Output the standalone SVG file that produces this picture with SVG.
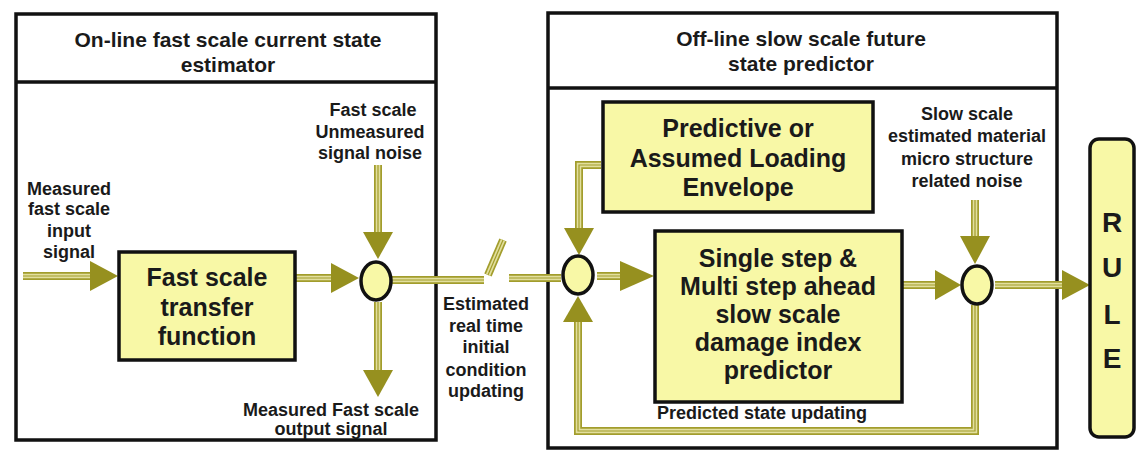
<svg xmlns="http://www.w3.org/2000/svg" width="1137" height="453" viewBox="0 0 1137 453">
<defs>
<style>
text{font-family:"Liberation Sans",Arial,sans-serif;font-weight:bold;fill:#1a1a1a;text-anchor:middle}
.hd{font-size:21px}
.lb{font-size:18px}
.bx{font-size:25px}
.rl{font-size:28px}
.panel{fill:#fff;stroke:#111;stroke-width:3.5}
.node{fill:#f8f8a6;stroke:#111;stroke-width:3.5}
.sum{fill:#f8f8a6;stroke:#111;stroke-width:3.5}
.w1{fill:none;stroke:#a29d2c;stroke-width:8}
.w2{fill:none;stroke:#e2df9e;stroke-width:4.5}
.w3{fill:none;stroke:#a29d2c;stroke-width:1.2}
.ah{fill:#96901f}
</style>
</defs>
<rect width="1137" height="453" fill="#fff"/>

<g id="panel-left">
<rect class="panel" x="16" y="14" width="420" height="426"/>
<line x1="16" y1="82" x2="436" y2="82" stroke="#111" stroke-width="3.5"/>
<text class="hd" x="228" y="47">On-line fast scale current state</text>
<text class="hd" x="228" y="72">estimator</text>
</g>

<g id="panel-right">
<rect class="panel" x="548" y="13" width="509" height="435"/>
<line x1="548" y1="88" x2="1057" y2="88" stroke="#111" stroke-width="3.5"/>
<text class="hd" x="801" y="46">Off-line slow scale future</text>
<text class="hd" x="801" y="71">state predictor</text>
</g>

<g id="connectors">
<g>
<path class="w1" d="M23 276 H92 M296 278 H333 M378 165 V234 M378 302 V370 M392 280 H484 M509 278 H561 M601 165 H579 V230 M597 276 H622 M902 285 H938 M975 200 V238 M995 285 H1064 M975 305 V431 H578 V322"/>
<path class="w2" d="M23 276 H92 M296 278 H333 M378 165 V234 M378 302 V370 M392 280 H484 M509 278 H561 M601 165 H579 V230 M597 276 H622 M902 285 H938 M975 200 V238 M995 285 H1064 M975 305 V431 H578 V322"/>
<path class="w3" d="M23 276 H92 M296 278 H333 M378 165 V234 M378 302 V370 M392 280 H484 M509 278 H561 M601 165 H579 V230 M597 276 H622 M902 285 H938 M975 200 V238 M995 285 H1064 M975 305 V431 H578 V322"/>
<path class="w1" d="M488 275 L503 240"/>
<path class="w2" d="M488 275 L503 240"/>
<path class="w3" d="M488 275 L503 240"/>
</g>
<polygon class="ah" points="90,261 118,276 90,291"/>
<polygon class="ah" points="331,263 359,278 331,293"/>
<polygon class="ah" points="363,232 393,232 378,259"/>
<polygon class="ah" points="363,370 393,370 378,397"/>
<polygon class="ah" points="564,228 594,228 579,255"/>
<polygon class="ah" points="563,322 593,322 578,296"/>
<polygon class="ah" points="620,261 654,276 620,291"/>
<polygon class="ah" points="935,270 961,285 935,300"/>
<polygon class="ah" points="960,236 990,236 975,264"/>
<polygon class="ah" points="1062,270 1090,285 1062,300"/>
</g>

<g id="fast-transfer">
<rect class="node" x="119" y="252" width="176" height="108"/>
<text class="bx" x="207" y="286">Fast scale</text>
<text class="bx" x="207" y="316">transfer</text>
<text class="bx" x="207" y="345">function</text>
</g>

<g id="sum-fast">
<ellipse class="sum" cx="376" cy="281" rx="15" ry="19"/>
</g>

<g id="sum-initial">
<ellipse class="sum" cx="578" cy="275" rx="15" ry="19"/>
</g>

<g id="loading-envelope">
<rect class="node" x="603" y="102" width="270" height="110"/>
<text class="bx" x="738" y="137">Predictive or</text>
<text class="bx" x="738" y="167">Assumed Loading</text>
<text class="bx" x="738" y="196">Envelope</text>
</g>

<g id="damage-predictor">
<rect class="node" x="655" y="231" width="247" height="171"/>
<text class="bx" x="778" y="267">Single step &amp;</text>
<text class="bx" x="778" y="295">Multi step ahead</text>
<text class="bx" x="778" y="323">slow scale</text>
<text class="bx" x="778" y="351">damage index</text>
<text class="bx" x="778" y="379">predictor</text>
</g>

<g id="sum-slow">
<ellipse class="sum" cx="977" cy="285" rx="15" ry="19"/>
</g>

<g id="rule">
<rect class="node" x="1090" y="139" width="44" height="298" rx="9"/>
<text class="rl" x="1112" y="232">R</text>
<text class="rl" x="1112" y="277">U</text>
<text class="rl" x="1112" y="324">L</text>
<text class="rl" x="1112" y="368">E</text>
</g>

<g id="labels">
<text class="lb" x="373" y="116">Fast scale</text>
<text class="lb" x="370" y="138">Unmeasured</text>
<text class="lb" x="370" y="159">signal noise</text>
<text class="lb" x="69" y="195">Measured</text>
<text class="lb" x="69" y="215">fast scale</text>
<text class="lb" x="69" y="237">input</text>
<text class="lb" x="69" y="258">signal</text>
<text class="lb" x="331" y="416">Measured Fast scale</text>
<text class="lb" x="331" y="435">output signal</text>
<text class="lb" x="486" y="310">Estimated</text>
<text class="lb" x="486" y="332">real time</text>
<text class="lb" x="486" y="353">initial</text>
<text class="lb" x="486" y="376">condition</text>
<text class="lb" x="486" y="397">updating</text>
<text class="lb" x="967" y="120">Slow scale</text>
<text class="lb" x="967" y="142">estimated material</text>
<text class="lb" x="967" y="165">micro structure</text>
<text class="lb" x="967" y="187">related  noise</text>
<text class="lb" x="762" y="419">Predicted state updating</text>
</g>
</svg>
